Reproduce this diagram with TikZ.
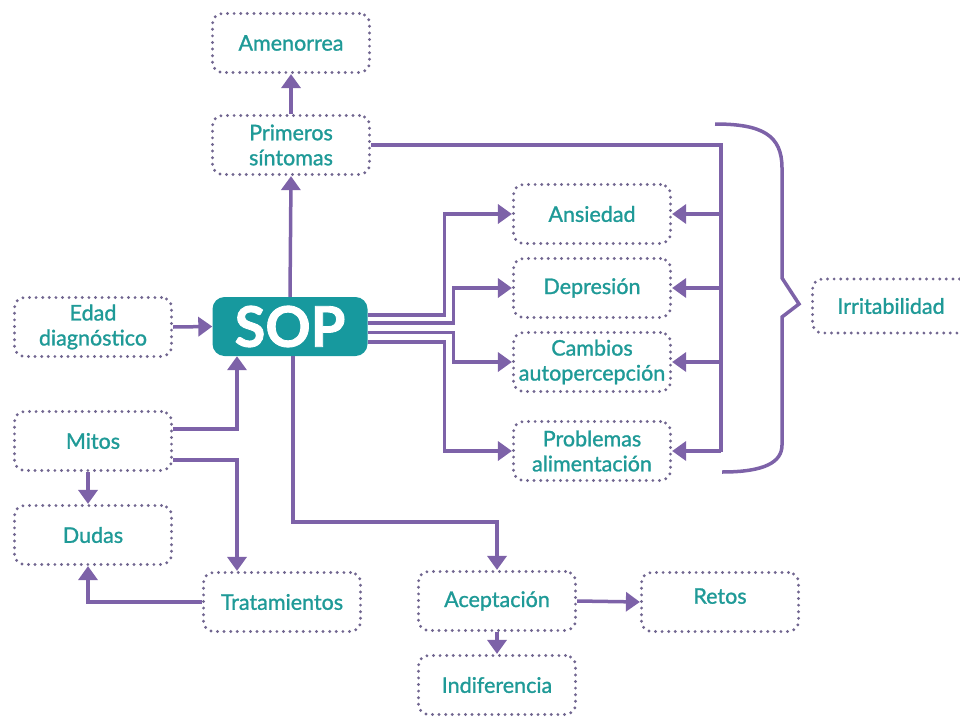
\documentclass[tikz,border=0pt]{standalone}
\usepackage{fontspec}
\setmainfont{Lato}[FakeBold=1.2]
\newfontfamily\sopfont{Lato}[UprightFont=*-Bold,FakeBold=1.5]
\usetikzlibrary{arrows.meta}
\definecolor{ln}{HTML}{7D62A8}
\definecolor{dt}{HTML}{716690}
\definecolor{tx}{HTML}{1F9A97}
\definecolor{sopc}{HTML}{17999E}
\begin{document}
\begin{tikzpicture}[x=1pt,y=-1pt,
 box/.style={draw=dt, line width=3.2pt, dash pattern=on 0pt off 6.6pt, line cap=round,
   rounded corners=10pt, minimum width=157pt, minimum height=59pt, text=tx,
   font=\fontsize{21.5}{25}\selectfont, align=center, inner sep=0pt},
 con/.style={draw=ln, line width=3.5pt},
 arr/.style={con, -{Triangle[length=14pt,width=19pt]}}]
\useasboundingbox (0,0) rectangle (960,717);

\node[box] (amen) at (291,43) {Amenorrea};
\node[box] (prim) at (291,145) {Primeros\\síntomas};
\node[fill=sopc, rounded corners=12pt, minimum width=155pt, minimum height=59pt, inner sep=0pt,
  text=white, font=\fontsize{56}{60}\sopfont] (sop) at (290,326.5) {SOP};
\node[box] (edad) at (93,327) {Edad\\diagnóstico};
\node[box] (mitos) at (93,441) {Mitos};
\node[box] (dudas) at (93,535) {Dudas};
\node[box] (trat) at (282,602) {Tratamientos};
\node[box] (ans) at (592,214) {Ansiedad};
\node[box] (dep) at (592,288) {Depresión};
\node[box] (camb) at (592,362) {Cambios\\autopercepción};
\node[box] (prob) at (592,451) {Problemas\\alimentación};
\node[box, minimum height=54pt] (irr) at (891,306) {Irritabilidad};
\node[box] (acep) at (497,601) {Aceptación};
\node[box] (retos) at (720,602) {\raisebox{12pt}{Retos}};
\node[box] (indif) at (497,685) {Indiferencia};

% vertical chain
\draw[arr] (sop.north) -- (prim.south);
\draw[arr] (prim.north) -- (amen.south);

% bus from Primeros sintomas
\coordinate (bus) at (721,145);
\coordinate (busb) at (721,452);
\draw[con] (prim.east) -- (bus) -- (busb);
\draw[arr] (ans.east -| bus) -- (ans.east);
\draw[arr] (dep.east -| bus) -- (dep.east);
\draw[arr] (camb.east -| bus) -- (camb.east);
\draw[arr] (prob.east -| bus) -- (prob.east);

% SOP outputs
\draw[arr] ([yshift=11.5pt]sop.east) -- ++(77,0) |- (ans.west);
\draw[arr] ([yshift=3.5pt]sop.east) -- ++(86,0) |- (dep.west);
\draw[arr] ([yshift=-6pt]sop.east) -- ++(86,0) |- (camb.west);
\draw[arr] ([yshift=-15.5pt]sop.east) -- ++(77,0) |- (prob.west);

% left side
\draw[arr] (edad.east) -- (sop.west);
\draw[arr] ([yshift=12pt]mitos.east) -| ([xshift=-53pt]sop.south);
\draw[arr] ([yshift=-19pt]mitos.east) -| ([xshift=-45pt]trat.north);
\draw[arr] ([xshift=-5pt]mitos.south) -- ([xshift=-5pt]dudas.north);
\draw[arr] (trat.west) -| ([xshift=-5pt]dudas.south);

% bottom
\coordinate (turn) at (293,522);
\draw[arr] ([xshift=3pt]sop.south) -- (turn) -| (acep.north);
\draw[arr] (acep.east) -- (retos.west);
\draw[arr] (acep.south) -- (indif.north);

% brace
\draw[con] (715,124) .. controls (762,124) and (782,135) .. (782,168) -- (782,278)
  -- (799,304) -- (782,317) -- (782,445) .. controls (782,462) and (765,472) .. (722,472);
\end{tikzpicture}
\end{document}
